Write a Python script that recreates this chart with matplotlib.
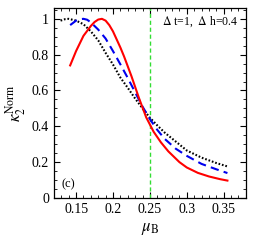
import numpy as np
import matplotlib
matplotlib.use("Agg")
import matplotlib.pyplot as plt
from matplotlib.ticker import MultipleLocator

plt.rcParams['font.family'] = 'Liberation Serif'
plt.rcParams['mathtext.fontset'] = 'stix'

# values
mu_red = [0.142, 0.150, 0.160, 0.170, 0.175, 0.180, 0.185, 0.190, 0.195, 0.200,
          0.205, 0.210, 0.215, 0.225, 0.235, 0.245, 0.255, 0.265, 0.275, 0.290,
          0.300, 0.315, 0.330, 0.345, 0.355]
k_red = [0.74, 0.82, 0.905, 0.96, 0.982, 0.996, 1.00, 0.99, 0.965, 0.93,
         0.885, 0.84, 0.79, 0.68, 0.56, 0.45, 0.37, 0.31, 0.26, 0.20,
         0.17, 0.14, 0.12, 0.105, 0.097]

mu_blue = [0.142, 0.150, 0.155, 0.160, 0.165, 0.170, 0.180, 0.190, 0.200, 0.210,
           0.220, 0.230, 0.240, 0.250, 0.260, 0.270, 0.285, 0.300, 0.320, 0.340, 0.355]
k_blue = [0.965, 0.99, 0.998, 1.00, 0.995, 0.98, 0.94, 0.89, 0.82, 0.746,
          0.67, 0.59, 0.51, 0.44, 0.38, 0.33, 0.275, 0.235, 0.19, 0.16, 0.139]

mu_black = [0.129, 0.135, 0.140, 0.150, 0.160, 0.170, 0.180, 0.190, 0.200, 0.210,
            0.220, 0.230, 0.240, 0.250, 0.260, 0.270, 0.285, 0.300, 0.320, 0.340, 0.355]
k_black = [0.99, 0.998, 1.00, 0.99, 0.97, 0.93, 0.88, 0.81, 0.745, 0.672,
           0.615, 0.555, 0.50, 0.448, 0.405, 0.365, 0.315, 0.265, 0.225, 0.195, 0.176]

mu_line = 0.25

fig = plt.figure(figsize=(2.58, 2.45), dpi=100)
ax = fig.add_axes([0.209, 0.192, 0.744, 0.775])

ax.axvline(mu_line, color='#33dd33', lw=1.0, dashes=(3, 2))
ax.plot(mu_black, k_black, color='black', lw=1.5, linestyle=(0, (0.8, 0.9)))
ax.plot(mu_blue, k_blue, color='#0000ee', lw=1.5, dashes=(4, 2.5))
ax.plot(mu_red, k_red, color='#ff0000', lw=1.5)

ax.set_xlim(0.12, 0.38)
ax.set_ylim(0, 1.06)
ax.xaxis.set_minor_locator(MultipleLocator(0.01))
ax.yaxis.set_minor_locator(MultipleLocator(0.05))
ax.set_xticks([0.15, 0.2, 0.25, 0.3, 0.35])
ax.set_xticklabels(['0.15', '0.2', '0.25', '0.3', '0.35'])
ax.set_yticks([0, 0.2, 0.4, 0.6, 0.8, 1])
ax.set_yticklabels(['0', '0.2', '0.4', '0.6', '0.8', '1'])

ax.tick_params(which='both', direction='in', top=True, right=True, labelsize=10)
ax.tick_params(which='major', length=4, width=0.8)
ax.tick_params(which='minor', length=2.2, width=0.6)
for s in ax.spines.values():
    s.set_linewidth(0.9)

ax.set_xlabel(r'$\mu_{\mathrm{B}}$', fontsize=12, labelpad=4)
ax.set_ylabel(r'$\kappa_2^{\mathrm{Norm}}$', fontsize=12, labelpad=3)

ax.text(0.96, 0.93, r'$\Delta$ t=1,  $\Delta$ h=0.4', transform=ax.transAxes,
        ha='right', va='center', fontsize=8.5)
ax.text(0.04, 0.07, '(c)', transform=ax.transAxes, ha='left', va='center', fontsize=9)

fig.savefig('out.png', dpi=100)
